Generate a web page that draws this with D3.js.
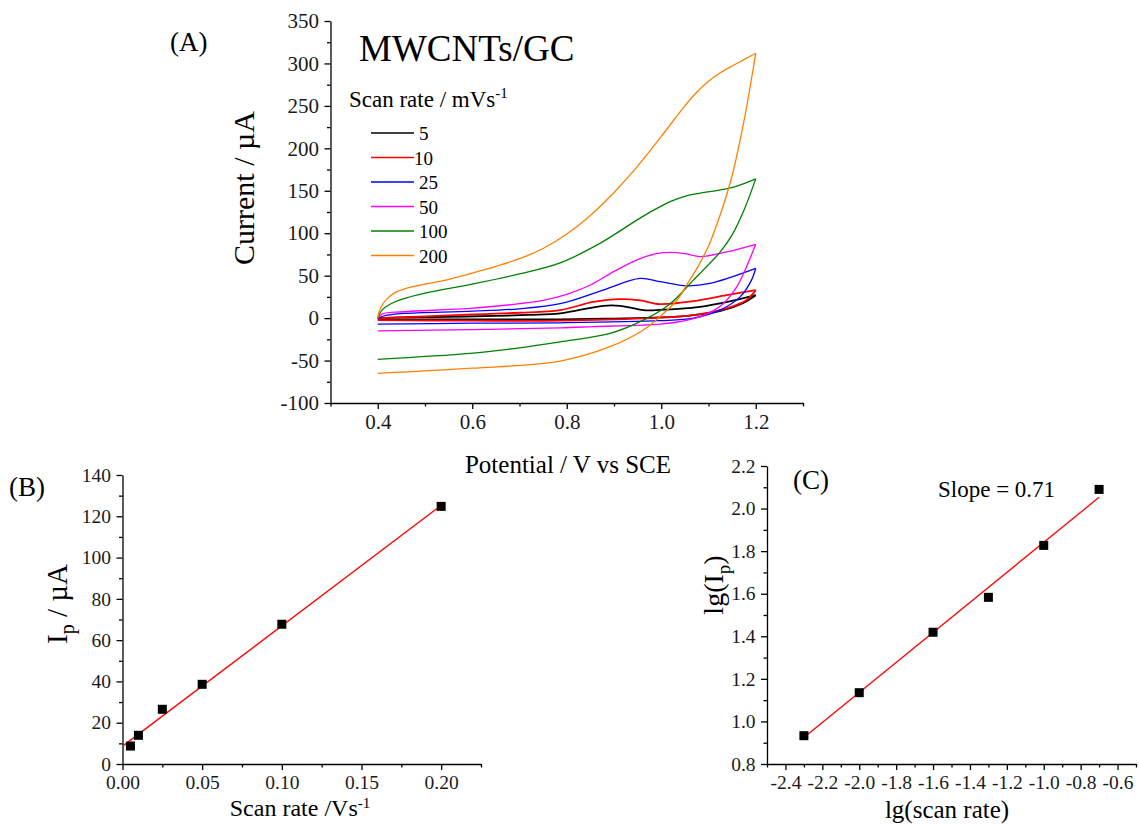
<!DOCTYPE html>
<html>
<head>
<meta charset="utf-8">
<script src="https://cdn.jsdelivr.net/npm/d3@7"></script>
<style>
  html, body { margin: 0; padding: 0; background: #fff; }
  svg { display: block; }
</style>
</head>
<body>
<svg id="chart" width="1139" height="825"></svg>
<script>
// ---- Cyclic voltammograms of MWCNTs/GC at several scan rates ----
const scanRates = [5, 10, 25, 50, 100, 200];               // mV/s
const scanColors = ["#000000", "#ff0000", "#0000ff", "#ff00ff", "#008000", "#ff8000"];

// anodic (forward) sweeps, [potential V, current µA]
const forward5 = [[0.40,0],[0.45,0.8],[0.55,1.6],[0.65,2.6],[0.72,3.8],[0.786,5.5],[0.877,14.5],[0.913,14.5],[0.962,9.4],[0.997,9.6],[1.082,13.3],[1.138,18.8],[1.2,27]];
const forward10 = [[0.40,0],[0.5,2],[0.6,4.3],[0.7,6.3],[0.786,9.4],[0.856,19],[0.913,22.4],[0.955,21],[0.997,16.5],[1.068,20],[1.138,27],[1.2,33]];
const forward25 = [[0.40,0],[0.42,3.5],[0.454,5.5],[0.6,8.2],[0.7,11],[0.786,17],[0.877,33],[0.955,46.7],[0.997,43],[1.054,38],[1.103,40.8],[1.2,58.5]];
const forward50 = [[0.40,0],[0.41,5],[0.454,7.5],[0.595,11.4],[0.7,17],[0.75,21],[0.8,28],[0.85,39],[0.9,55],[0.95,69],[0.99,76],[1.02,77.5],[1.05,76],[1.082,72.5],[1.138,78],[1.2,87]];
const forward100 = [[0.40,0],[0.403,4],[0.41,10],[0.425,16],[0.45,22],[0.5,29.5],[0.6,40],[0.7,52],[0.786,65],[0.87,88],[0.95,116],[0.98,126],[1.0,132],[1.02,137.5],[1.05,143.5],[1.08,147],[1.12,150.5],[1.16,155.5],[1.2,164]];
const forward200 = [[0.40,0],[0.402,6],[0.41,16],[0.42,23],[0.435,29.5],[0.46,35],[0.5,40],[0.546,45],[0.6,53],[0.65,61],[0.7,70],[0.75,82],[0.8,99],[0.85,121],[0.9,148],[0.95,179],[1.0,214],[1.05,250],[1.075,266],[1.1,279],[1.125,289],[1.15,297],[1.175,304.5],[1.2,312]];

// cathodic (reverse) sweeps, listed by increasing potential
const reverse5 = [[0.40,-1.5],[0.6,-1.5],[0.786,-1.5],[0.9,-0.5],[0.997,0.8],[1.06,3],[1.124,8.2],[1.174,18],[1.2,27]];
const reverse10 = [[0.40,-2.4],[0.6,-3],[0.786,-3],[0.962,-0.4],[1.068,3.5],[1.138,11.4],[1.18,21],[1.2,33]];
const reverse25 = [[0.40,-7],[0.6,-6],[0.786,-5.5],[0.997,-3],[1.068,0],[1.124,9.4],[1.167,25],[1.191,44.8],[1.2,58.5]];
const reverse50 = [[0.40,-15],[0.6,-13.5],[0.786,-11.4],[0.856,-10],[0.997,-7],[1.04,-4],[1.089,3],[1.131,17],[1.16,37],[1.18,60],[1.2,87]];
const reverse100 = [[0.40,-48.5],[0.595,-41.6],[0.7,-35],[0.786,-28],[0.8915,-18],[0.962,-2.4],[1.019,17],[1.068,44.8],[1.1,63],[1.125,78],[1.15,98],[1.175,127],[1.2,164]];
const reverse200 = [[0.40,-65],[0.6,-59],[0.786,-50.6],[0.89,-34],[0.962,-14],[0.997,1.6],[1.033,21],[1.055,40],[1.08,63],[1.1,85],[1.125,122],[1.15,168],[1.175,232],[1.2,312]];

const forwardSweeps = [forward5, forward10, forward25, forward50, forward100, forward200];
const reverseSweeps = [reverse5, reverse10, reverse25, reverse50, reverse100, reverse200];

// ---- Peak current vs scan rate ----
const scanRateVs = [0.005, 0.01, 0.025, 0.05, 0.1, 0.2];     // V/s
const peakCurrent = [8.7, 13.9, 26.5, 38.6, 67.7, 124.8];    // µA
const fitLineB = [[0.0005, 8.9], [0.2, 125.3]];

// ---- log-log plot ----
const lgScanRate = [-2.3, -2.0, -1.6, -1.3, -1.0, -0.7];
const lgPeakCurrent = [0.933, 1.135, 1.419, 1.583, 1.827, 2.09];
const fitLineC = [[-2.3, 0.924], [-0.7, 2.053]];

// tick values
const ticksAxMajor = [0.4, 0.6, 0.8, 1.0, 1.2];
const ticksAxMinor = [0.3, 0.5, 0.7, 0.9, 1.1, 1.3];
const ticksAyMajor = [-100, -50, 0, 50, 100, 150, 200, 250, 300, 350];
const ticksAyMinor = [-75, -25, 25, 75, 125, 175, 225, 275, 325];
const ticksBxMajor = [0, 0.05, 0.10, 0.15, 0.20];
const ticksBxMinor = [0.025, 0.075, 0.125, 0.175, 0.225];
const ticksByMajor = [0, 20, 40, 60, 80, 100, 120, 140];
const ticksByMinor = [10, 30, 50, 70, 90, 110, 130];
const ticksCxMajor = [-2.4, -2.2, -2.0, -1.8, -1.6, -1.4, -1.2, -1.0, -0.8, -0.6];
const ticksCxMinor = [-2.5, -2.3, -2.1, -1.9, -1.7, -1.5, -1.3, -1.1, -0.9, -0.7, -0.5];
const ticksCyMajor = [0.8, 1.0, 1.2, 1.4, 1.6, 1.8, 2.0, 2.2];
const ticksCyMinor = [0.9, 1.1, 1.3, 1.5, 1.7, 1.9, 2.1];

const SERIF = '"Liberation Serif", "Times New Roman", Times, serif';
const svg = d3.select("#chart").attr("font-family", SERIF);

function styleAxis(fs) {
  return sel => {
    sel.attr("font-family", SERIF).attr("font-size", fs);
    sel.selectAll("path, line").attr("stroke", "#000").attr("stroke-width", 1.3);
    sel.selectAll("text").attr("fill", "#1a1a1a").attr("font-family", SERIF).attr("font-size", fs);
  };
}

// draw a pair of axes with labelled major ticks and unlabelled minor ticks
function drawAxes(g, x, y, o) {
  const yPos = y.range()[0], xPos = x.range()[0];
  g.append("g").attr("transform", `translate(0,${yPos})`)
    .call(d3.axisBottom(x).tickValues(o.xMajor).tickSize(6).tickSizeOuter(0).tickPadding(5).tickFormat(o.xFmt))
    .call(styleAxis(o.fs));
  g.append("g").attr("transform", `translate(0,${yPos})`)
    .call(d3.axisBottom(x).tickValues(o.xMinor).tickSize(3.5).tickSizeOuter(0).tickFormat(""))
    .call(styleAxis(o.fs)).select(".domain").remove();
  g.append("g").attr("transform", `translate(${xPos},0)`)
    .call(d3.axisLeft(y).tickValues(o.yMajor).tickSize(6).tickSizeOuter(0).tickPadding(5.5).tickFormat(o.yFmt))
    .call(styleAxis(o.fs));
  g.append("g").attr("transform", `translate(${xPos},0)`)
    .call(d3.axisLeft(y).tickValues(o.yMinor).tickSize(3.5).tickSizeOuter(0).tickFormat(""))
    .call(styleAxis(o.fs)).select(".domain").remove();
}

// ================= Panel A =================
const xA = d3.scaleLinear().domain([0.3, 1.3]).range([330.5, 803]);
const yA = d3.scaleLinear().domain([-100, 350]).range([403, 21]);
const gA = svg.append("g");

const sweepLine = d3.line().x(d => xA(d[0])).y(d => yA(d[1])).curve(d3.curveCatmullRom.alpha(0.5));
scanRates.forEach((r, i) => {
  const w = i < 2 ? 1.8 : 1.3;
  gA.append("path").attr("d", sweepLine(forwardSweeps[i]))
    .attr("fill", "none").attr("stroke", scanColors[i]).attr("stroke-width", w);
  gA.append("path").attr("d", sweepLine(reverseSweeps[i]))
    .attr("fill", "none").attr("stroke", scanColors[i]).attr("stroke-width", w);
});

drawAxes(gA, xA, yA, {
  fs: 21,
  xMajor: ticksAxMajor, xMinor: ticksAxMinor, xFmt: d => d.toFixed(1),
  yMajor: ticksAyMajor, yMinor: ticksAyMinor, yFmt: d => String(d)
});

gA.append("text").attr("x", 170).attr("y", 51).attr("font-size", 27).text("(A)");
gA.append("text").attr("x", 359).attr("y", 61).attr("font-size", 37).text("MWCNTs/GC");

const legTitle = gA.append("text").attr("x", 349).attr("y", 107).attr("font-size", 23);
legTitle.append("tspan").text("Scan rate / mVs");
legTitle.append("tspan").attr("dy", -9).attr("font-size", 15).text("-1");

const legendRowsY = [133, 157.5, 182, 206.5, 231, 255.5];
scanRates.forEach((r, i) => {
  const yy = legendRowsY[i];
  gA.append("line").attr("x1", 371).attr("x2", 414).attr("y1", yy).attr("y2", yy)
    .attr("stroke", scanColors[i]).attr("stroke-width", 1.5);
  gA.append("text").attr("x", r === 10 ? 414 : 419).attr("y", yy + 7).attr("font-size", 19).text(String(r));
});

gA.append("text").attr("transform", "translate(254,188) rotate(-90)").attr("text-anchor", "middle")
  .attr("font-size", 30).text("Current / µA");
gA.append("text").attr("x", 568).attr("y", 473).attr("text-anchor", "middle")
  .attr("font-size", 25).text("Potential / V vs SCE");

// ================= Panel B =================
const xB = d3.scaleLinear().domain([0, 0.225]).range([122.5, 481]);
const yB = d3.scaleLinear().domain([0, 140]).range([764, 475]);
const gB = svg.append("g");

drawAxes(gB, xB, yB, {
  fs: 19.5,
  xMajor: ticksBxMajor, xMinor: ticksBxMinor, xFmt: d => d.toFixed(2),
  yMajor: ticksByMajor, yMinor: ticksByMinor, yFmt: d => String(d)
});

gB.append("path").attr("d", d3.line().x(d => xB(d[0])).y(d => yB(d[1]))(fitLineB))
  .attr("stroke", "#ff0000").attr("stroke-width", 1.3).attr("fill", "none");
gB.selectAll("rect.pt").data(scanRateVs).enter().append("rect").attr("class", "pt")
  .attr("x", (d) => xB(d) - 4.5).attr("y", (d, i) => yB(peakCurrent[i]) - 4.5)
  .attr("width", 9).attr("height", 9).attr("fill", "#000");

gB.append("text").attr("x", 9).attr("y", 496).attr("font-size", 27).text("(B)");
const ipB = gB.append("text").attr("transform", "translate(67,604) rotate(-90)").attr("text-anchor", "middle").attr("font-size", 29);
ipB.append("tspan").text("I");
ipB.append("tspan").attr("dy", 7).attr("font-size", 20).text("p");
ipB.append("tspan").attr("dy", -7).text(" / µA");
const xlB = gB.append("text").attr("x", 300).attr("y", 816).attr("text-anchor", "middle").attr("font-size", 24);
xlB.append("tspan").text("Scan rate /Vs");
xlB.append("tspan").attr("dy", -8).attr("font-size", 15).text("-1");

// ================= Panel C =================
const xC = d3.scaleLinear().domain([-2.5, -0.5]).range([767, 1136]);
const yC = d3.scaleLinear().domain([0.8, 2.2]).range([764, 466]);
const gC = svg.append("g");

drawAxes(gC, xC, yC, {
  fs: 19.5,
  xMajor: ticksCxMajor, xMinor: ticksCxMinor, xFmt: d => d.toFixed(1),
  yMajor: ticksCyMajor, yMinor: ticksCyMinor, yFmt: d => d.toFixed(1)
});

gC.append("path").attr("d", d3.line().x(d => xC(d[0])).y(d => yC(d[1]))(fitLineC))
  .attr("stroke", "#ff0000").attr("stroke-width", 1.3).attr("fill", "none");
gC.selectAll("rect.pt").data(lgScanRate).enter().append("rect").attr("class", "pt")
  .attr("x", (d) => xC(d) - 4.5).attr("y", (d, i) => yC(lgPeakCurrent[i]) - 4.5)
  .attr("width", 9).attr("height", 9).attr("fill", "#000");

gC.append("text").attr("x", 793).attr("y", 489).attr("font-size", 27).text("(C)");
gC.append("text").attr("x", 938).attr("y", 497).attr("font-size", 23).text("Slope = 0.71");
const ipC = gC.append("text").attr("transform", "translate(723,585) rotate(-90)").attr("text-anchor", "middle").attr("font-size", 28);
ipC.append("tspan").text("lg(I");
ipC.append("tspan").attr("dy", 7).attr("font-size", 19).text("p");
ipC.append("tspan").attr("dy", -7).text(")");
gC.append("text").attr("x", 947).attr("y", 818).attr("text-anchor", "middle").attr("font-size", 25).text("lg(scan rate)");
</script>
</body>
</html>
